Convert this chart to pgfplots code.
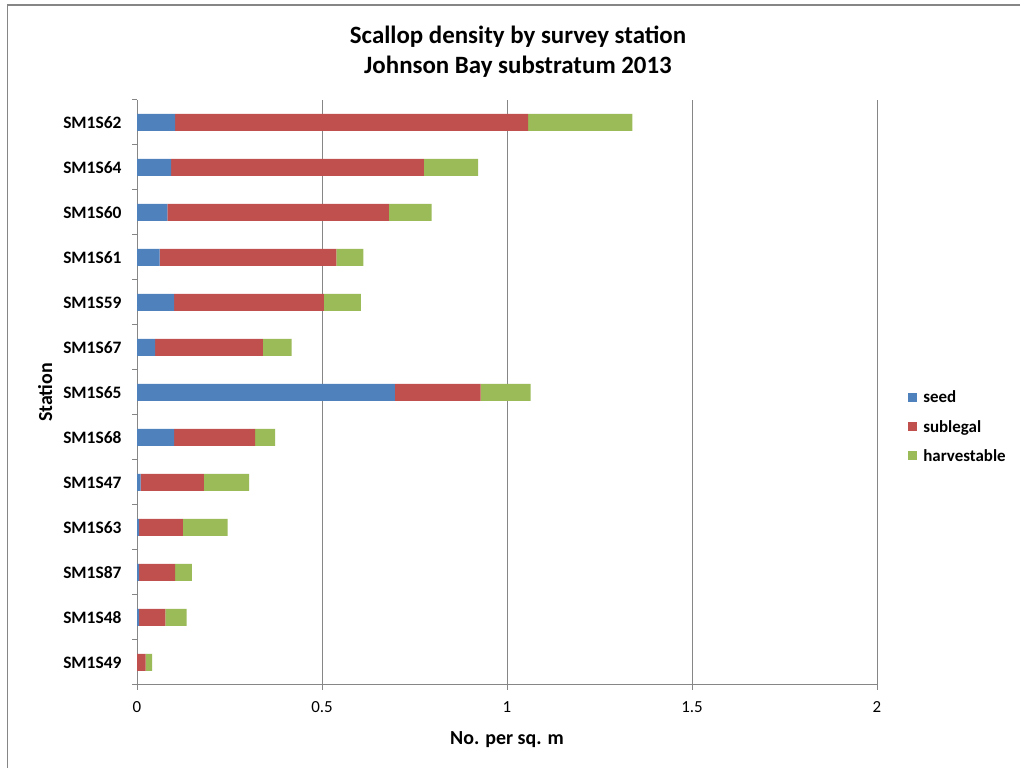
\documentclass[border=0pt]{standalone}
\usepackage{pgfplots}
\pgfplotsset{compat=1.18}
\usepackage{pgfplotstable}
\usepackage{fontspec}
\setmainfont{Carlito}
\definecolor{seedc}{HTML}{4F81BD}
\definecolor{subc}{HTML}{C0504D}
\definecolor{harvc}{HTML}{9BBB59}
\definecolor{gridc}{HTML}{868686}

\pgfplotstableread{
y seed sub harv
0 0.000 0.023 0.018
1 0.006 0.071 0.057
2 0.006 0.097 0.045
3 0.006 0.118 0.121
4 0.010 0.171 0.122
5 0.100 0.219 0.054
6 0.697 0.232 0.135
7 0.049 0.291 0.078
8 0.100 0.405 0.100
9 0.061 0.478 0.073
10 0.082 0.599 0.115
11 0.092 0.683 0.147
12 0.103 0.954 0.282
}\data

\begin{document}
\begin{tikzpicture}[x=1bp,y=1bp]
\useasboundingbox (0,0) rectangle (1020,768);
\draw[color=gridc, line width=1.5bp] (7.5,0) -- (7.5,763) -- (1020,763);
\node[font=\fontsize{25}{30}\selectfont\bfseries] at (518,731) {Scallop density by survey station};
\node[font=\fontsize{25}{30}\selectfont\bfseries] at (518,701) {Johnson Bay substratum 2013};
\begin{axis}[
  at={(137bp,83bp)}, anchor=south west,
  scale only axis, width=740bp, height=585bp,
  xbar stacked, bar width=17bp,
  xmin=0, xmax=2, ymin=-0.5, ymax=12.5,
  axis lines*=left,
  axis line style={draw=gridc, line width=1bp},
  xtick={0,0.5,1,1.5,2},
  xmajorgrids, grid style={draw=gridc, line width=1bp},
  tick align=outside,
  major tick length=5bp,
  tick style={draw=gridc, line width=1bp},
  ytick={-0.5,0.5,...,12.5}, yticklabels={},
  extra y ticks={0,1,2,3,4,5,6,7,8,9,10,11,12},
  extra y tick labels={SM1S49,SM1S48,SM1S87,SM1S63,SM1S47,SM1S68,SM1S65,SM1S67,SM1S59,SM1S61,SM1S60,SM1S64,SM1S62},
  extra y tick style={major tick length=0pt, grid=none, yticklabel style={font=\fontsize{17.5}{20}\selectfont\bfseries, xshift=-12bp}},
  /pgf/number format/assume math mode=true,
  xticklabel style={font=\fontsize{17}{20}\selectfont, yshift=-8bp},
  xlabel={No. per sq. m}, ylabel={Station},
  every axis x label/.style={at={(axis description cs:0.5,-0.094)}, anchor=center, font=\fontsize{20}{24}\selectfont\bfseries},
  every axis y label/.style={at={(axis description cs:-0.124,0.5)}, anchor=center, rotate=90, font=\fontsize{20}{24}\selectfont\bfseries},
  legend style={at={(1.042,0.441)}, anchor=west, draw=none, fill=none, font=\fontsize{17}{20}\selectfont\bfseries, row sep=12bp, inner sep=0pt, nodes={inner xsep=6bp}},
  legend cell align=left,
  legend image code/.code={\fill[#1] (0bp,-4bp) rectangle (9bp,5bp);},
]
\addplot[fill=seedc, draw=none] table[x=seed, y=y] {\data};
\addplot[fill=subc, draw=none] table[x=sub, y=y] {\data};
\addplot[fill=harvc, draw=none] table[x=harv, y=y] {\data};
\legend{seed, sublegal, harvestable}
\end{axis}
\end{tikzpicture}
\end{document}
